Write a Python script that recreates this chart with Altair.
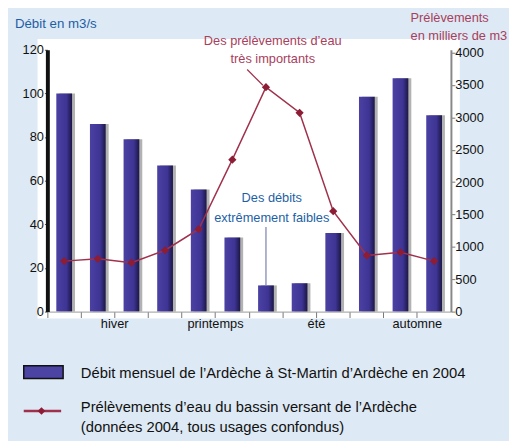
import altair as alt
import pandas as pd

# ---- data ----
mois = list(range(1, 13))
debit = [100, 86, 79, 67, 56, 34, 12, 13, 36, 98.5, 107, 90]          # m3/s
prelevements = [780, 816, 756, 948, 1273, 2347, 3468, 3072, 1551, 867, 917, 780]  # milliers de m3
saisons = {2: "hiver", 5: "printemps", 8: "été", 11: "automne"}
left_ticks = [0, 20, 40, 60, 80, 100, 120]
right_ticks = [0, 500, 1000, 1500, 2000, 2500, 3000, 3500, 4000]

df = pd.DataFrame({"mois": mois, "debit": debit, "prelev": prelevements})
one = pd.DataFrame({"k": [0]})

BLUE_TXT = "#1d5fa6"
RED_TXT = "#a8405c"
LINE_COL = "#a0304b"
PT_COL = "#8d1c35"
FONT = "Liberation Sans"

label_expr = " : ".join(
    [f"datum.value == {k} ? '{v}'" for k, v in saisons.items()]
) + " : ''"

W, H = 410, 266

x_enc = alt.X(
    "mois:O",
    scale=alt.Scale(paddingInner=0, paddingOuter=0),
    axis=alt.Axis(
        title=None, bandPosition=0, labelOffset=W / 24, labelAngle=0,
        labelExpr=label_expr, labelOverlap=False, tickSize=6, tickColor="#777",
        domainColor="#999", domainWidth=1, labelFontSize=13, labelPadding=0,
        labelColor="#111", labelFont=FONT, grid=False, zindex=1,
    ),
)

left_scale = alt.Scale(domain=[0, 120], nice=False)
right_scale = alt.Scale(domain=[0, 4045], nice=False)

y_left = alt.Y(
    "debit:Q", scale=left_scale,
    axis=alt.Axis(
        title=None, orient="left", values=left_ticks, grid=False,
        domainColor="#111", domainWidth=4, tickColor="#555", tickSize=3,
        labelPadding=1, labelFontSize=13, labelColor="#111", labelFont=FONT,
        zindex=1,
    ),
)
y_right = alt.Y(
    "prelev:Q", scale=right_scale,
    axis=alt.Axis(
        title=None, orient="right", values=right_ticks, grid=False, format="d",
        domainColor="#888", domainWidth=2, tickColor="#777", tickSize=4,
        labelPadding=0, labelFontSize=13, labelColor="#111", labelFont=FONT,
        zindex=1,
    ),
)

bg = alt.Chart(one).mark_rect(fill="white").encode(
    x=alt.value(-10), x2=alt.value(W + 9), y=alt.value(-11), y2=alt.value(H + 7)
)

bar_grad = alt.Gradient(
    gradient="linear",
    stops=[
        alt.GradientStop(color="#4a41a3", offset=0),
        alt.GradientStop(color="#3d3494", offset=0.65),
        alt.GradientStop(color="#1c1745", offset=1),
    ],
    x1=0, x2=1, y1=0, y2=0,
)

shadow = alt.Chart(df).mark_bar(size=16, xOffset=3, color="#000", opacity=0.3).encode(
    x=x_enc, y=alt.Y("debit:Q", scale=left_scale, axis=None)
)
bars = alt.Chart(df).mark_bar(size=16, fill=bar_grad).encode(x=x_enc, y=y_left)

line = alt.Chart(df).mark_line(color=LINE_COL, strokeWidth=1.5, interpolate="linear").encode(
    x=x_enc, y=y_right
)
pts = alt.Chart(df).mark_point(shape="diamond", filled=True, size=70, color=PT_COL, opacity=1).encode(
    x=x_enc, y=alt.Y("prelev:Q", scale=right_scale, axis=None)
)


def txt(s, x, y, color, size=13, align="left"):
    return alt.Chart(one).mark_text(
        text=s, align=align, baseline="middle", font=FONT, fontSize=size, color=color
    ).encode(x=alt.value(x), y=alt.value(y))


# annotations
ann = [
    txt("Débit en m3/s", -33, -26, BLUE_TXT, size=13.5),
    txt("Prélèvements", 369, -32, RED_TXT),
    txt("en milliers de m3", 369, -14, RED_TXT),
    txt("Des prélèvements d’eau", 229, -9, RED_TXT, align="center"),
    txt("très importants", 229, 9, RED_TXT, align="center"),
    txt("Des débits", 228, 151, BLUE_TXT, align="center"),
    txt("extrêmement faibles", 228, 171, BLUE_TXT, align="center"),
]
red_leader = alt.Chart(one).mark_rule(color=LINE_COL, strokeWidth=1.2).encode(
    x=alt.value(203), x2=alt.value(219), y=alt.value(20), y2=alt.value(36)
)
blue_leader = alt.Chart(df).transform_filter("datum.mois == 7").mark_rule(
    color="#7a7fb0", strokeWidth=1.2
).encode(x=x_enc, y=alt.value(180), y2=alt.value(239))

# legend
leg_rect = alt.Chart(one).mark_rect(fill="#4b44a3", stroke="#111", strokeWidth=1.5).encode(
    x=alt.value(-24), x2=alt.value(16), y=alt.value(321), y2=alt.value(334)
)
leg_line = alt.Chart(one).mark_rule(color=LINE_COL, strokeWidth=2.5).encode(
    x=alt.value(-24), x2=alt.value(14), y=alt.value(367)
)
leg_pt = alt.Chart(one).mark_point(shape="diamond", filled=True, size=60, color=PT_COL, opacity=1).encode(
    x=alt.value(-6), y=alt.value(367)
)
leg_txt = [
    txt("Débit mensuel de l’Ardèche à St-Martin d’Ardèche en 2004", 34, 328, "#111", size=15),
    txt("Prélèvements d’eau du bassin versant de l’Ardèche", 34, 363, "#111", size=15),
    txt("(données 2004, tous usages confondus)", 34, 383, "#111", size=15),
]

chart = alt.layer(
    bg, shadow, bars, line, pts, red_leader, blue_leader, *ann,
    leg_rect, leg_line, leg_pt, *leg_txt,
).resolve_scale(y="independent").properties(
    width=W, height=H,
    autosize=alt.AutoSizeParams(type="none"),
    padding={"left": 40, "top": 39, "right": 59, "bottom": 128},
).configure(background="#dde9f4", font=FONT).configure_view(stroke=None)

chart.save("out.html", embed_options={"renderer": "svg", "actions": False})
